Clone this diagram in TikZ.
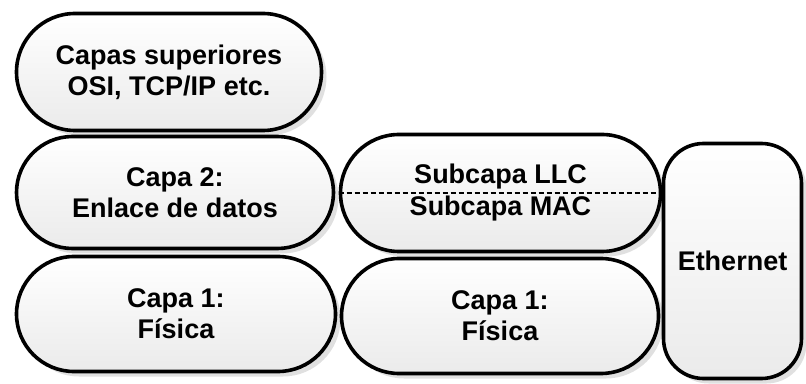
\documentclass[tikz,border=0pt]{standalone}
\usepackage{fontspec}
\setmainfont{Liberation Sans}
\usetikzlibrary{positioning,shapes.misc,shadows}

\tikzset{
	capa/.style={rounded rectangle, draw, line width=3.6pt, top color=white, bottom color=black!8,
		drop shadow={shadow xshift=5pt, shadow yshift=-5pt, fill=black!12, opacity=1},
		align=center, inner sep=0pt, font=\fontsize{27}{31}\selectfont\bfseries},
	enet/.style={capa, rectangle, rounded corners=40pt},
	subdiv/.style={line width=2.4pt, dash pattern=on 5pt off 3pt},
}

\begin{document}
\begin{tikzpicture}[x=1pt,y=1pt]
			\useasboundingbox (0,0) rectangle (806,383);
			\coordinate (o) at (0,0);
			%% pila izquierda
			\node[capa, minimum width=305pt, minimum height=117pt, above right=311pt and 169pt of o, anchor=center] (sup) {Capas superiores\\OSI, TCP/IP etc.};
			\node[capa, minimum width=317pt, minimum height=112pt, above right=190.5pt and 175pt of o, anchor=center] (capa2) {Capa 2:\\Enlace de datos};
			\node[capa, minimum width=319pt, minimum height=115pt, above right=69pt and 176pt of o, anchor=center] (fis1) {Capa 1:\\F\'isica};
			%% pila de ethernet
			\node[capa, minimum width=320pt, minimum height=117pt, above right=190pt and 500.5pt of o, anchor=center,
				font=\fontsize{27}{32}\selectfont\bfseries] (sub) {Subcapa LLC\\Subcapa MAC};
			\node[capa, minimum width=317pt, minimum height=115pt, above right=67pt and 500pt of o, anchor=center] (fis2) {Capa 1:\\F\'isica};
			\node[enet, minimum width=138pt, minimum height=235pt, above right=122pt and 732.5pt of o, anchor=center] (eth) {Ethernet};
			% linea entre LLC y MAC
			\draw[subdiv] (sub.west) -- (sub.east);
		\end{tikzpicture}
\end{document}
